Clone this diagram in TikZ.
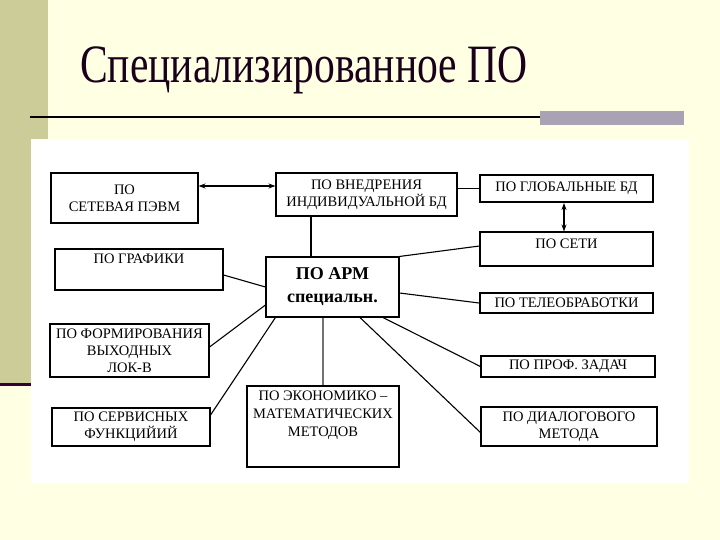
\documentclass[tikz,border=0pt]{standalone}
\usepackage{fontspec}
\usepackage{graphicx}
\setmainfont{Liberation Serif}
\usetikzlibrary{arrows.meta}
\definecolor{slidebg}{RGB}{255,255,228}
\definecolor{stripcol}{RGB}{204,204,153}
\definecolor{purpleline}{RGB}{51,0,51}
\definecolor{graybar}{RGB}{168,162,180}
\definecolor{titlecol}{RGB}{26,0,26}
\begin{document}
\begin{tikzpicture}[x=1pt,y=-1pt,
  box/.style={draw=black, line width=1.1pt, fill=white, rectangle, inner sep=2pt,
    align=center, font=\fontsize{14.5}{17}\selectfont},
  thickbox/.style={box, line width=2pt},
  lbl/.style={align=center, font=\fontsize{14.5}{18}\selectfont, inner sep=4pt},
  conn/.style={line width=1.1pt, black},
  dbl/.style={conn, {Stealth[length=7pt,width=5pt]}-{Stealth[length=7pt,width=5pt]}}]
\useasboundingbox (0,0) rectangle (720,540);
% slide background
\fill[slidebg] (0,0) rectangle (720,540);
\fill[stripcol] (0,0) rectangle (48,383);
\fill[purpleline] (0,383) rectangle (48,386);
\draw[black, line width=2.5pt] (30,117) -- (684,117);
\fill[graybar] (540,111) rectangle (684,125);
\fill[white] (31,139) rectangle (689,483);
% title
\node[anchor=base west, inner sep=0pt, text=titlecol, font=\fontsize{54}{60}\selectfont] (title) at (80,83) {\scalebox{0.77}[1]{Специализированное ПО}};
% boxes
\node[box, minimum width=147pt, minimum height=50pt] (set) at (124.5,198) {ПО\\СЕТЕВАЯ ПЭВМ};
\node[box, minimum width=168pt, minimum height=41pt,
  label={[lbl, anchor=north, yshift=-1pt]north:ПО ГРАФИКИ}] (graf) at (139,269.5) {};
\node[box, minimum width=181pt, minimum height=43pt] (vnedr) at (366.5,194.5) {ПО ВНЕДРЕНИЯ\\ИНДИВИДУАЛЬНОЙ БД};
\node[box, minimum width=133pt, minimum height=60pt, font=\bfseries\fontsize{18}{23}\selectfont] (arm) at (332.5,287) {ПО АРМ\\специальн.};
\node[thickbox, minimum width=173pt, minimum height=27pt] (glob) at (566.5,188.5) {ПО ГЛОБАЛЬНЫЕ БД};
\node[box, minimum width=173pt, minimum height=34pt,
  label={[lbl, anchor=north, yshift=-3pt]north:ПО СЕТИ}] (seti) at (566.5,249) {};
\node[thickbox, minimum width=173pt, minimum height=20pt] (tele) at (566.5,303) {ПО ТЕЛЕОБРАБОТКИ};
\node[box, minimum width=174pt, minimum height=21pt] (prof) at (568,366.5) {ПО ПРОФ. ЗАДАЧ};
\node[box, minimum width=176pt, minimum height=39pt] (dial) at (569,426.5) {ПО ДИАЛОГОВОГО\\МЕТОДА};
\node[box, minimum width=152pt, minimum height=81pt,
  label={[lbl, anchor=north, yshift=-1pt]north:ПО ЭКОНОМИКО –\\МАТЕМАТИЧЕСКИХ\\МЕТОДОВ}] (econ) at (323,426.5) {};
\node[box, minimum width=159pt, minimum height=53pt] (form) at (129.5,350.5) {ПО ФОРМИРОВАНИЯ\\ВЫХОДНЫХ\\ЛОК-В};
\node[box, minimum width=158pt, minimum height=38pt] (serv) at (131,427) {ПО СЕРВИСНЫХ\\ФУНКЦИЙИЙ};
% connectors
\draw[dbl] ([yshift=8.5pt]vnedr.west) -- ([yshift=8.5pt]vnedr.west -| set.east);
\draw[conn] (vnedr.east |- glob.west) -- (glob.west);
\draw[dbl] ([xshift=-2.5pt]glob.south) -- ([xshift=-2.5pt]seti.north);
\draw[conn] ([xshift=-21.5pt]arm.north) -- ([xshift=-21.5pt]arm.north |- vnedr.south);
\draw[conn] (arm.north east) -- ([yshift=3pt]seti.west);
\draw[conn] ([yshift=-6pt]arm.east) -- (tele.west);
\draw[conn] ([xshift=50.5pt]arm.south) -- (prof.west);
\draw[conn] ([xshift=27.5pt]arm.south) -- ([yshift=-6pt]dial.west);
\draw[line width=1.6pt, black!55] (arm.south -| econ.north) -- (econ.north);
\draw[conn] ([yshift=-5.5pt]graf.east) -- (arm.west);
\draw[conn] ([yshift=-18pt]arm.west) -- ([yshift=3.5pt]form.east);
\draw[conn] ([xshift=10pt]arm.south west) -- ([yshift=12pt]serv.east);
\end{tikzpicture}
\end{document}
